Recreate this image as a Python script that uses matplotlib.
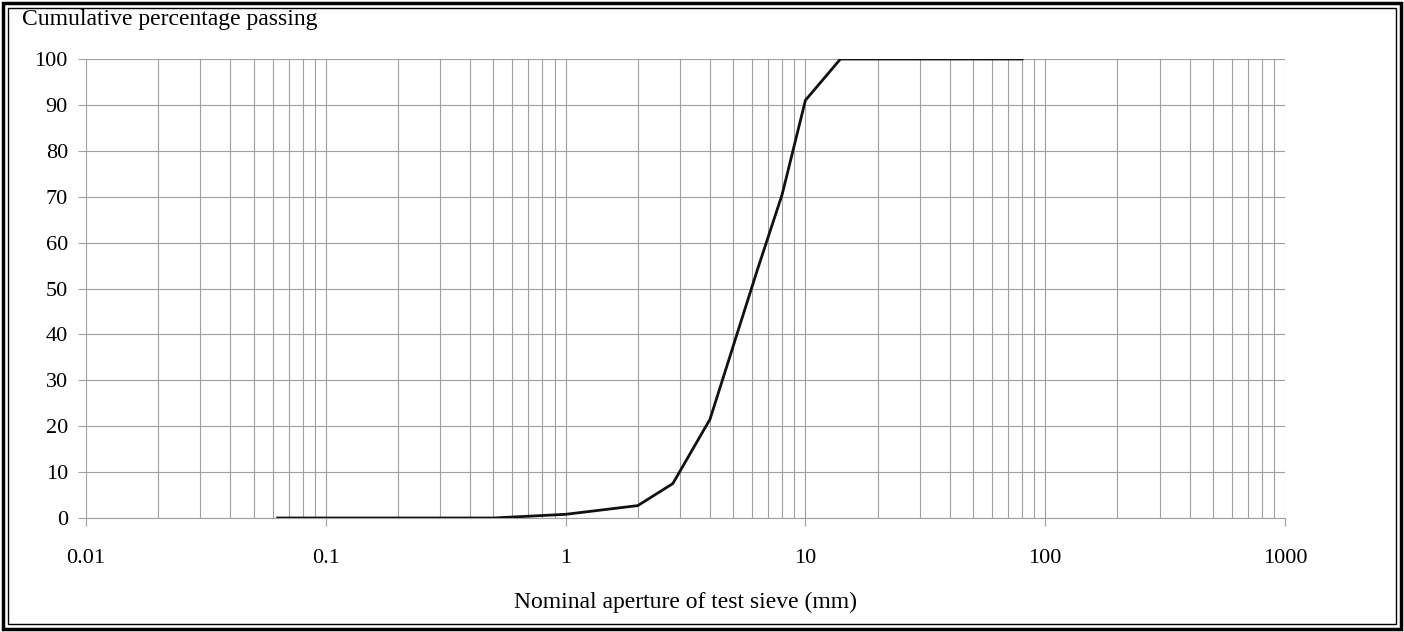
import matplotlib
matplotlib.use("Agg")
import matplotlib.pyplot as plt
from matplotlib.patches import Rectangle
from matplotlib.ticker import FixedLocator, LogLocator, NullFormatter

plt.rcParams['font.family'] = ['Liberation Serif', 'DejaVu Serif']

# sieve apertures (mm) and cumulative % passing
sieve_mm = [0.063, 0.125, 0.25, 0.5, 1, 2, 2.8, 4, 6.3, 8, 10, 14, 20, 31.5, 40, 63, 80]
passing = [0, 0, 0, 0, 0.8, 2.7, 7.5, 21.5, 54, 70.5, 91, 100, 100, 100, 100, 100, 100]

x_ticks = [0.01, 0.1, 1, 10, 100, 1000]
x_tick_labels = ['0.01', '0.1', '1', '10', '100', '1000']
y_ticks = list(range(0, 101, 10))

fig = plt.figure(figsize=(14.04, 6.32), dpi=100)
ax = fig.add_axes([86/1404, 1-518/632, (1285-86)/1404, (518-59)/632])

ax.plot(sieve_mm, passing, color='#111111', lw=2.0, zorder=3)

ax.set_xscale('log')
ax.set_xlim(0.01, 1000)
ax.set_ylim(0, 100)
ax.xaxis.set_major_locator(FixedLocator(x_ticks))
ax.set_xticklabels(x_tick_labels)
ax.xaxis.set_minor_locator(LogLocator(base=10, subs=range(2, 10)))
ax.xaxis.set_minor_formatter(NullFormatter())
ax.set_yticks(y_ticks)

ax.grid(True, which='both', axis='x', color='#a0a0a0', lw=0.8)
ax.grid(True, which='major', axis='y', color='#a0a0a0', lw=0.8)
for s in ['top', 'right']:
    ax.spines[s].set_visible(False)
ax.spines['left'].set_visible(False)
ax.spines['bottom'].set_color('#a0a0a0')
ax.tick_params(axis='both', which='major', labelsize=16, color='#a0a0a0', length=6, direction='out')
ax.tick_params(axis='x', which='major', pad=16)
ax.tick_params(axis='x', which='minor', length=0)
ax.tick_params(axis='y', pad=7)

fig.text(22/1404, 1-20/632, 'Cumulative percentage passing', fontsize=17, va='center', ha='left')
fig.text((86+1285)/2/1404, 1-602/632, 'Nominal aperture of test sieve (mm)', fontsize=17, va='center', ha='center')

# double frame around figure
fig.patches.append(Rectangle((3/1404, 3/632), 1-6/1404, 1-6/632, transform=fig.transFigure,
                             fill=False, ec='black', lw=2.5))
fig.patches.append(Rectangle((8/1404, 8/632), 1-16/1404, 1-16/632, transform=fig.transFigure,
                             fill=False, ec='black', lw=1.0))

fig.savefig('out.png', dpi=100)
